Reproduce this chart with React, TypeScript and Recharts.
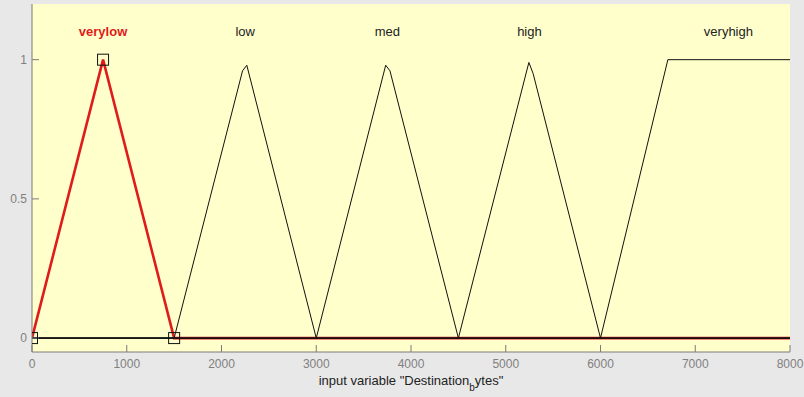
import React from 'react';
import { ComposedChart, Line, Scatter, XAxis, YAxis, ReferenceArea } from 'recharts';

const xTicks = [0, 1000, 2000, 3000, 4000, 5000, 6000, 7000, 8000];
const yTicks = [0, 0.5, 1];

const mfNames = ['verylow', 'low', 'med', 'high', 'veryhigh'];
const mfLabelX = [750, 2250, 3750, 5250, 7350];
const mfLabelY = 1.1;

const verylowX = [0, 750, 1500, 8000];
const verylowY = [0, 1, 0, 0];
const lowX = [0, 1500, 2222, 2267, 3000, 8000];
const lowY = [0, 0, 0.96, 0.98, 0, 0];
const medX = [0, 3000, 3733, 3778, 4500, 8000];
const medY = [0, 0, 0.98, 0.96, 0, 0];
const highX = [0, 4500, 5244, 5289, 6000, 8000];
const highY = [0, 0, 0.99, 0.95, 0, 0];
const veryhighX = [0, 6000, 6711, 8000];
const veryhighY = [0, 0, 1, 1];

const markerX = [0, 750, 1500];
const markerY = [0, 1, 0];

const pts = (xs: number[], ys: number[]) => xs.map((x, i) => ({ x, y: ys[i] }));

const FONT = 'Liberation Sans, Arial, sans-serif';
const RED = '#e01b1b';
const AXIS = '#7a7a7a';

const SquareShape = (p: any) => (
  <rect x={p.cx - 5.5} y={p.cy - 5.5} width={11} height={11} fill="none" stroke="#111" strokeWidth={1} />
);

const LabelShape = (p: any) => {
  const isRed = p.payload.name === 'verylow';
  return (
    <text
      x={p.cx}
      y={p.cy + 4}
      textAnchor="middle"
      fontFamily={FONT}
      fontSize={13}
      fontWeight={isRed ? 'bold' : 'normal'}
      fill={isRed ? RED : '#222'}
    >
      {p.payload.name}
    </text>
  );
};

const AxisTitle = (props: any) => {
  const vb = props.viewBox || {};
  const cx = vb.x + vb.width / 2;
  const y = vb.y + 33;
  return (
    <text x={cx} y={y} textAnchor="middle" fontFamily={FONT} fontSize={13} fill="#222">
      <tspan>input variable "Destination</tspan>
      <tspan fontSize={10} dy={6}>b</tspan>
      <tspan dy={-6}>ytes"</tspan>
    </text>
  );
};

const labelData = mfNames.map((name, i) => ({ x: mfLabelX[i], y: mfLabelY, name }));

export default function App() {
  return (
    <div style={{ position: 'absolute', left: 0, top: 0, width: 804, height: 397, background: '#e8e8e8' }}>
      <ComposedChart width={804} height={397} margin={{ top: 4, right: 14, bottom: 15, left: 0 }}>
        <XAxis
          xAxisId="b"
          type="number"
          dataKey="x"
          domain={[0, 8000]}
          ticks={xTicks}
          allowDataOverflow
          tickSize={-7}
          tickMargin={14}
          height={30}
          stroke={AXIS}
          tick={{ fill: '#808080', fontSize: 12, fontFamily: FONT }}
          label={<AxisTitle />}
        />
        <XAxis
          xAxisId="t"
          orientation="top"
          type="number"
          dataKey="x"
          domain={[0, 8000]}
          ticks={xTicks}
          allowDataOverflow
          tickSize={-7}
          height={0}
          stroke={AXIS}
          tick={() => <g />}
        />
        <YAxis
          yAxisId="l"
          type="number"
          domain={[-0.05, 1.2]}
          ticks={yTicks}
          allowDataOverflow
          tickSize={-7}
          tickMargin={12}
          width={32}
          stroke={AXIS}
          tick={{ fill: '#808080', fontSize: 12, fontFamily: FONT }}
        />
        <YAxis
          yAxisId="r"
          orientation="right"
          type="number"
          domain={[-0.05, 1.2]}
          ticks={yTicks}
          allowDataOverflow
          tickSize={-7}
          width={0}
          stroke={AXIS}
          tick={() => <g />}
        />
        <ReferenceArea xAxisId="b" yAxisId="l" x1={0} x2={8000} y1={-0.05} y2={1.2} fill="#ffffcc" fillOpacity={1} stroke="none" />
        <Line xAxisId="b" yAxisId="l" data={pts(verylowX, verylowY)} dataKey="y" stroke={RED} strokeWidth={2.6} dot={false} activeDot={false} isAnimationActive={false} />
        <Line xAxisId="b" yAxisId="l" data={pts(lowX, lowY)} dataKey="y" stroke="#111" strokeWidth={1} dot={false} activeDot={false} isAnimationActive={false} />
        <Line xAxisId="b" yAxisId="l" data={pts(medX, medY)} dataKey="y" stroke="#111" strokeWidth={1} dot={false} activeDot={false} isAnimationActive={false} />
        <Line xAxisId="b" yAxisId="l" data={pts(highX, highY)} dataKey="y" stroke="#111" strokeWidth={1} dot={false} activeDot={false} isAnimationActive={false} />
        <Line xAxisId="b" yAxisId="l" data={pts(veryhighX, veryhighY)} dataKey="y" stroke="#111" strokeWidth={1} dot={false} activeDot={false} isAnimationActive={false} />
        <Scatter xAxisId="b" yAxisId="l" data={pts(markerX, markerY)} dataKey="y" shape={SquareShape} isAnimationActive={false} />
        <Scatter xAxisId="b" yAxisId="l" data={labelData} dataKey="y" shape={LabelShape} isAnimationActive={false} />
      </ComposedChart>
    </div>
  );
}
